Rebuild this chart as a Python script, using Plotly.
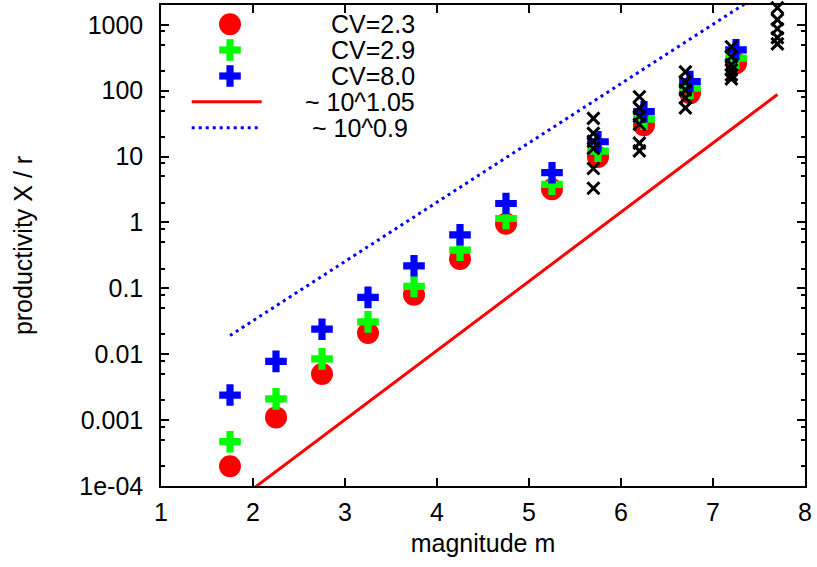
import plotly.graph_objects as go

# ---------------- data ----------------
m_sim = [1.75, 2.25, 2.75, 3.25, 3.75, 4.25, 4.75, 5.25, 5.75, 6.25, 6.75, 7.25]
cv23 = [2.0e-4, 0.0011, 0.0050, 0.021, 0.080, 0.28, 0.96, 3.2, 9.9, 30, 92, 262]
cv29 = [4.7e-4, 0.0021, 0.0085, 0.031, 0.107, 0.38, 1.15, 3.8, 12.1, 37, 109, 312]
cv80 = [0.0024, 0.0078, 0.024, 0.073, 0.22, 0.65, 1.94, 5.7, 16.8, 48, 138, 418]

obs_m = [5.7] * 6 + [6.2] * 6 + [6.7] * 5 + [7.2] * 6 + [7.7] * 5
obs_x = [38, 22.5, 17, 13.3, 6.6, 3.3,
         81, 55, 41, 31, 16, 12.2,
         193, 136, 103, 78, 55,
         464, 327, 247, 207, 174, 151,
         1820, 1200, 870, 640, 515]

fit_m = [1.75, 7.7]
fit_105 = [4.96e-5, 87.7]
fit_09 = [0.0192, 4345]

x_tickvals = [1, 2, 3, 4, 5, 6, 7, 8]
y_tickvals = [1e-4, 1e-3, 0.01, 0.1, 1, 10, 100, 1000]
y_ticktext = ["1e-04", "0.001", "0.01", "0.1", "1", "10", "100", "1000"]
legend_labels = ["CV=2.3", "CV=2.9", "CV=8.0", "~ 10^1.05", "~ 10^0.9"]

RED, GREEN, BLUE, BLACK = "#ff0000", "#00ff00", "#0000ff", "#000000"
FONT = "Liberation Sans, Arial, sans-serif"
FS = 25

# plot area in pixels
L, R, T, B = 161, 805, 5, 486
W, H = 817, 567


def px(xp):
    return (xp - L) / (R - L)


def py(yp):
    return (B - yp) / (B - T)


fig = go.Figure()
fig.add_trace(go.Scatter(x=m_sim, y=cv23, mode="markers", name=legend_labels[0],
                         marker=dict(symbol="circle", size=22, color=RED, line=dict(width=0)),
                         cliponaxis=False))
fig.add_trace(go.Scatter(x=m_sim, y=cv29, mode="markers", name=legend_labels[1],
                         marker=dict(symbol="cross", size=18, color=GREEN, line=dict(width=0)),
                         cliponaxis=False))
fig.add_trace(go.Scatter(x=m_sim, y=cv80, mode="markers", name=legend_labels[2],
                         marker=dict(symbol="cross", size=18, color=BLUE, line=dict(width=0)),
                         cliponaxis=False))
fig.add_trace(go.Scatter(x=fit_m, y=fit_105, mode="lines", name=legend_labels[3],
                         line=dict(color=RED, width=3)))
fig.add_trace(go.Scatter(x=fit_m, y=fit_09, mode="lines", name=legend_labels[4],
                         line=dict(color=BLUE, width=3, dash="3px,4px")))
fig.add_trace(go.Scatter(x=obs_m, y=obs_x, mode="markers", name="data",
                         marker=dict(symbol="x-thin", size=12, color=BLACK,
                                     line=dict(width=3, color=BLACK)),
                         cliponaxis=False))

# minor ticks at 2, 5, 8 per decade
minor_vals = []
for e in range(-4, 4):
    for k in (2, 5, 8):
        v = k * 10 ** e
        if v < 1990:
            minor_vals.append(v)

axis_common = dict(showline=True, linecolor=BLACK, linewidth=1.5, mirror="ticks",
                   ticks="inside", tickcolor=BLACK, tickwidth=1.5, ticklen=8,
                   showgrid=False, zeroline=False,
                   tickfont=dict(family=FONT, size=FS, color=BLACK))

fig.update_xaxes(range=[1, 8], tickmode="array", tickvals=x_tickvals,
                 title=dict(text="magnitude m", font=dict(family=FONT, size=FS, color=BLACK),
                            standoff=10),
                 ticklabelstandoff=3,
                 **axis_common)
fig.update_yaxes(type="log", range=[-4, 3.301], tickmode="array", tickvals=y_tickvals,
                 ticktext=y_ticktext,
                 minor=dict(tickmode="array", tickvals=minor_vals, ticks="inside", ticklen=4.5,
                            tickcolor=BLACK, tickwidth=1.5, showgrid=False),
                 title=dict(text="productivity X / r", font=dict(family=FONT, size=FS, color=BLACK),
                            standoff=40),
                 ticklabelstandoff=11,
                 **axis_common)

# ---------------- gnuplot-style key ----------------
rows = [24.3, 50, 76, 101.7, 127.7]
sym_x = 230
text_right = [417, 417, 417, 417, 410]
shapes = []
annotations = []
# circle
shapes.append(dict(type="circle", xref="paper", yref="paper", xsizemode="pixel", ysizemode="pixel",
                   xanchor=px(sym_x), yanchor=py(rows[0]), x0=-11, x1=11, y0=-11, y1=11,
                   fillcolor=RED, line=dict(width=0)))
# crosses
for r, col in ((rows[1], GREEN), (rows[2], BLUE)):
    shapes.append(dict(type="rect", xref="paper", yref="paper", xsizemode="pixel", ysizemode="pixel",
                       xanchor=px(sym_x), yanchor=py(r), x0=-10.8, x1=10.8, y0=-3.6, y1=3.6,
                       fillcolor=col, line=dict(width=0)))
    shapes.append(dict(type="rect", xref="paper", yref="paper", xsizemode="pixel", ysizemode="pixel",
                       xanchor=px(sym_x), yanchor=py(r), x0=-3.6, x1=3.6, y0=-10.8, y1=10.8,
                       fillcolor=col, line=dict(width=0)))
# line samples
shapes.append(dict(type="line", xref="paper", yref="paper", x0=px(191.7), x1=px(261.7),
                   y0=py(rows[3]), y1=py(rows[3]), line=dict(color=RED, width=3)))
shapes.append(dict(type="line", xref="paper", yref="paper", x0=px(191.7), x1=px(261.7),
                   y0=py(rows[4]), y1=py(rows[4]), line=dict(color=BLUE, width=3, dash="3px,4px")))

for lab, r, xr in zip(legend_labels, rows, text_right):
    annotations.append(dict(text=lab, xref="paper", yref="paper", x=px(xr), y=py(r),
                            xanchor="right", yanchor="middle", showarrow=False,
                            font=dict(family=FONT, size=FS, color=BLACK)))

fig.update_layout(width=W, height=H, margin=dict(l=L, r=W - R, t=T, b=H - B, autoexpand=False),
                  paper_bgcolor="white", plot_bgcolor="white", showlegend=False,
                  shapes=shapes, annotations=annotations,
                  font=dict(family=FONT, size=FS, color=BLACK))

fig.write_html("out.html")
